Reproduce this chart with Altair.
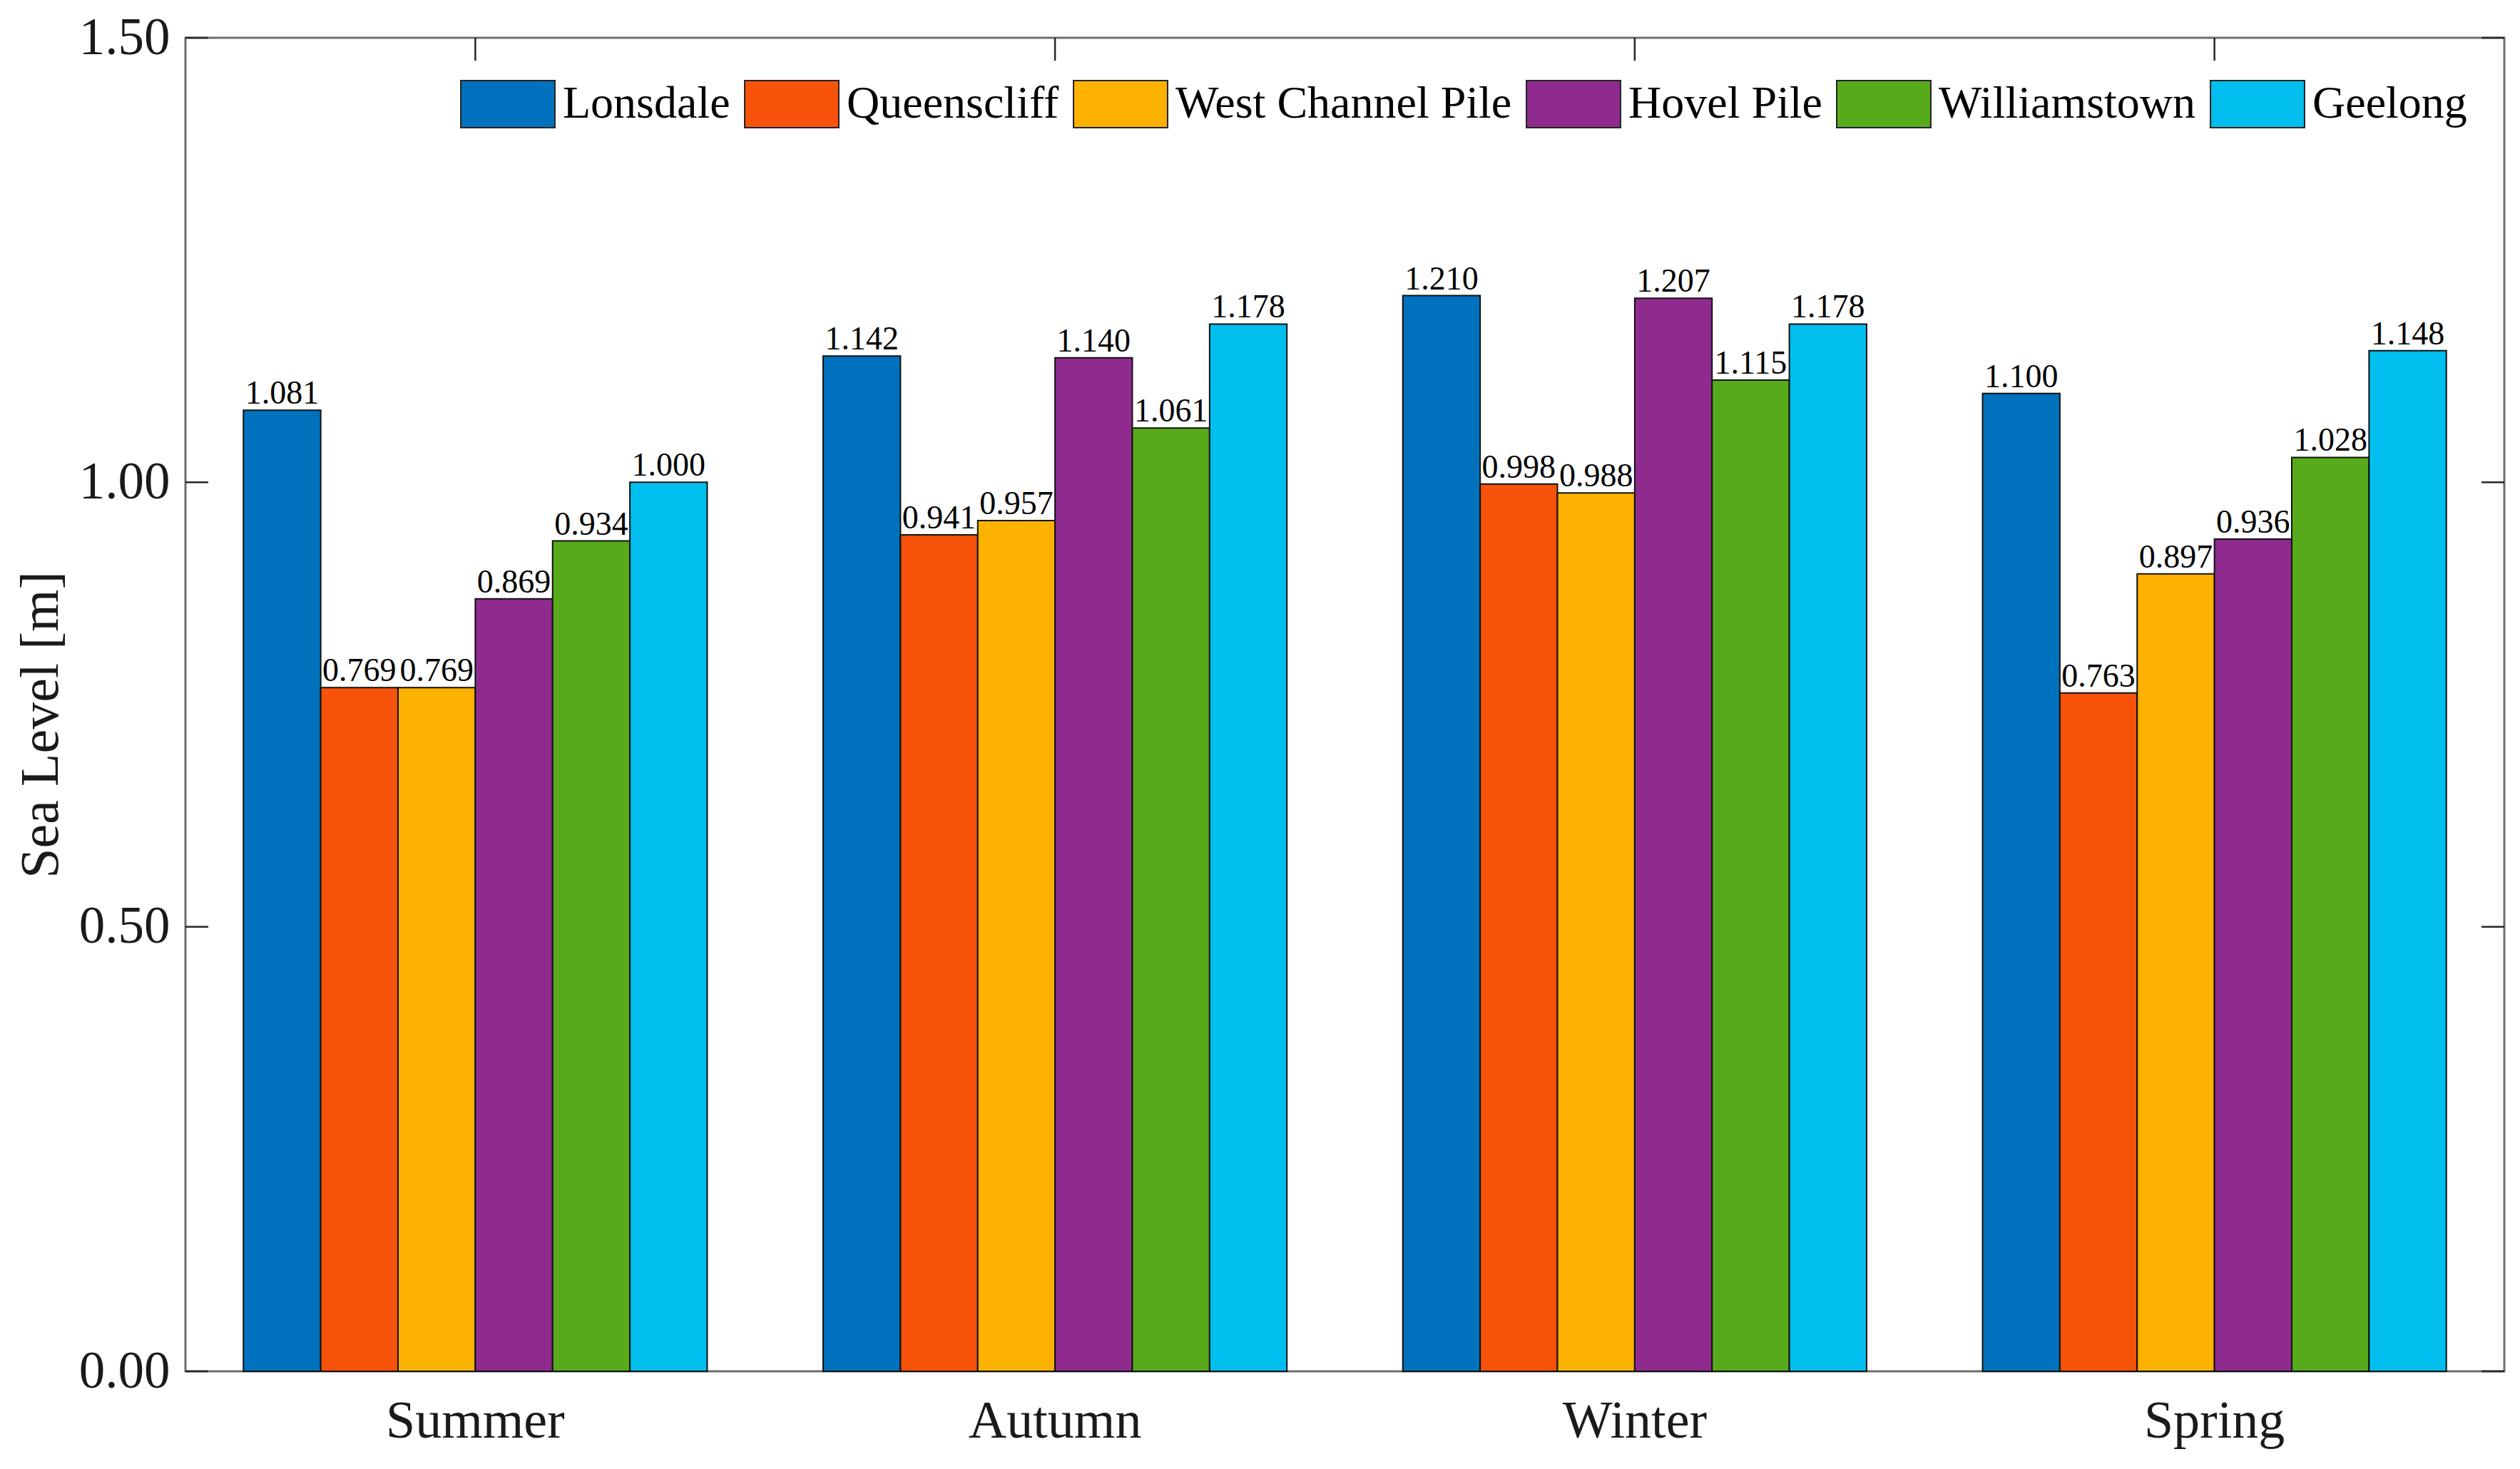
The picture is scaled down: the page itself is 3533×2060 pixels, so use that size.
import altair as alt
import pandas as pd

seasons = ["Summer", "Autumn", "Winter", "Spring"]
stations = ["Lonsdale", "Queenscliff", "West Channel Pile", "Hovel Pile", "Williamstown", "Geelong"]
colors = ["#0072BD", "#F7520A", "#FDB100", "#8F2B8F", "#57AB1B", "#00BFEE"]

lonsdale = [1.081, 1.142, 1.210, 1.100]
queenscliff = [0.769, 0.941, 0.998, 0.763]
west_channel = [0.769, 0.957, 0.988, 0.897]
hovel = [0.869, 1.140, 1.207, 0.936]
williamstown = [0.934, 1.061, 1.115, 1.028]
geelong = [1.000, 1.178, 1.178, 1.148]

y_ticks = [0.0, 0.5, 1.0, 1.5]

series = [lonsdale, queenscliff, west_channel, hovel, williamstown, geelong]
rows = []
for st, vals in zip(stations, series):
    for s, v in zip(seasons, vals):
        rows.append({"season": s, "station": st, "value": v, "label": f"{v:.3f}"})
df = pd.DataFrame(rows)
tick_df = pd.DataFrame({"value": y_ticks})
season_df = pd.DataFrame({"season": seasons})

W, H = 3251, 1870
FONT = "Liberation Serif"
TICKLEN = 32

xscale = alt.Scale(paddingInner=0.2, paddingOuter=0.1)
yscale = alt.Scale(domain=[0, 1.5], nice=False)

x_axis = alt.Axis(labelAngle=0, ticks=False, domain=False, labelFontSize=74, labelLimit=2000,
                  labelFont=FONT, labelColor="#1a1a1a", labelPadding=34)
y_axis = alt.Axis(values=y_ticks, format=".2f", ticks=False, domain=False, grid=False,
                  labelFontSize=73, labelFont=FONT, labelColor="#1a1a1a", labelPadding=22,
                  titleFontSize=76, titleFont=FONT, titleFontWeight="normal",
                  titleColor="#1a1a1a", titlePadding=14, titleY=H / 2 + 28)

def xe():
    return alt.X("season:N", sort=seasons, scale=xscale, title=None, axis=x_axis)

def ye():
    return alt.Y("value:Q", scale=yscale, title="Sea Level [m]", axis=y_axis)

xoff = alt.XOffset("station:N", sort=stations, scale=alt.Scale(paddingInner=0, paddingOuter=0))

bars = alt.Chart(df).mark_bar(stroke="#111111", strokeWidth=2).encode(
    x=xe(),
    xOffset=xoff,
    y=ye(),
    color=alt.Color("station:N", sort=stations,
                    scale=alt.Scale(domain=stations, range=colors),
                    legend=alt.Legend(title=None, orient="none", direction="horizontal",
                                      legendX=385, legendY=26,
                                      symbolType="M-1,-0.5H1V0.5H-1Z", symbolSize=17400,
                                      symbolStrokeColor="#222222", symbolStrokeWidth=2,
                                      symbolOpacity=1,
                                      labelFont=FONT, labelFontSize=64, labelColor="#000000",
                                      labelOffset=10, columnPadding=16, labelLimit=1000)),
)

labels = alt.Chart(df).mark_text(font=FONT, fontSize=46, baseline="alphabetic", dy=-9,
                                 color="#000000").encode(
    x=xe(),
    xOffset=xoff,
    y=ye(),
    text="label:N",
)

left_ticks = alt.Chart(tick_df).mark_rule(color="#262626", strokeWidth=2.5).encode(
    y=ye(),
    x=alt.value(0), x2=alt.value(TICKLEN),
)
right_ticks = alt.Chart(tick_df).mark_rule(color="#262626", strokeWidth=2.5).encode(
    y=ye(),
    x=alt.value(W), x2=alt.value(W - TICKLEN),
)
top_ticks = alt.Chart(season_df).mark_rule(color="#262626", strokeWidth=2.5).encode(
    x=xe(),
    y=alt.value(0), y2=alt.value(TICKLEN),
)
bottom_ticks = alt.Chart(season_df).mark_rule(color="#262626", strokeWidth=2.5).encode(
    x=xe(),
    y=alt.value(H), y2=alt.value(H - TICKLEN),
)

chart = alt.layer(bottom_ticks, bars, labels, left_ticks, right_ticks, top_ticks).properties(
    width=W, height=H,
    padding={"left": 11, "top": 9, "right": 10, "bottom": 10},
    background="white",
).configure_view(
    stroke="#6e6e6e", strokeWidth=3
)

chart.save("out.html", embed_options={"renderer": "svg", "actions": False})
